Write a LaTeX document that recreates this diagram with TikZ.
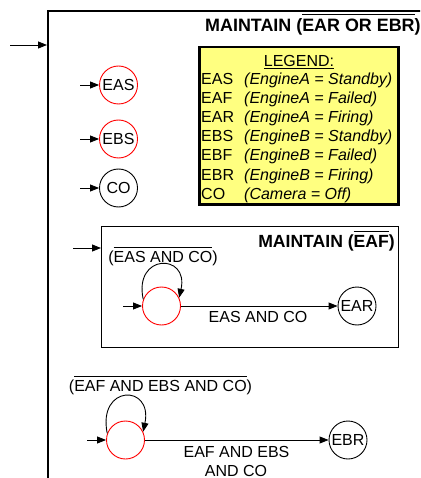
\documentclass[tikz,border=0pt]{standalone}
\usepackage{fontspec}
\setmainfont{Liberation Sans}
\usetikzlibrary{arrows.meta}
\definecolor{legendyellow}{RGB}{255,255,128}
\newsavebox\ovbox
\newcommand\ovl[1]{\sbox\ovbox{#1}\rlap{\raisebox{\dimexpr\ht\ovbox+4pt\relax}{\rule{\wd\ovbox}{0.8pt}}}\usebox\ovbox}
\begin{document}
\begin{tikzpicture}[x=1pt,y=-1pt,
  txt/.style={font=\fontsize{16}{19}\selectfont, inner sep=0pt},
  itxt/.style={font=\fontsize{16}{19}\selectfont\itshape, inner sep=0pt},
  ttl/.style={font=\fontsize{17.6}{21}\selectfont\bfseries, inner sep=0pt},
  state/.style={circle, draw, line width=0.9pt, minimum size=38pt, inner sep=0pt, font=\fontsize{16}{19}\selectfont},
  redstate/.style={state, draw=red},
  arr/.style={-{Triangle[length=9pt,width=7pt]}, line width=0.9pt},
  box/.style={draw, anchor=north west, inner sep=0pt},
]
\useasboundingbox (0,0) rectangle (420,478);
\clip (0,0) rectangle (420,478);

% outer box
\node[box, line width=2pt, minimum width=420pt, minimum height=500pt] (outer) at (47,10) {};
\node[ttl, font=\fontsize{17.9}{21}\selectfont\bfseries, anchor=base west] (t1) at (205,31.7) {MAINTAIN (\ovl{EAR OR EBR})};
\coordinate (oin) at (10,45);
\draw[arr] (oin) -- (oin -| outer.west);

% legend
\fill[black!45] (200.5,48.5) rectangle (400,206);
\node[box, line width=2.5pt, fill=legendyellow, minimum width=199pt, minimum height=157pt] (legend) at (198,46) {};
\node[txt, anchor=base] (lg) at (299,66.7) {\underline{LEGEND:}};
\node[txt, anchor=base west] (l1a) at (201,84.5) {EAS};
\node[itxt, anchor=base west] (l1b) at (244,84.5) {(EngineA = Standby)};
\node[txt, anchor=base west] (l2a) at (201,103.6) {EAF};
\node[itxt, anchor=base west] (l2b) at (244,103.6) {(EngineA = Failed)};
\node[txt, anchor=base west] (l3a) at (201,122.7) {EAR};
\node[itxt, anchor=base west] (l3b) at (244,122.7) {(EngineA = Firing)};
\node[txt, anchor=base west] (l4a) at (201,141.8) {EBS};
\node[itxt, anchor=base west] (l4b) at (244,141.8) {(EngineB = Standby)};
\node[txt, anchor=base west] (l5a) at (201,160.9) {EBF};
\node[itxt, anchor=base west] (l5b) at (244,160.9) {(EngineB = Failed)};
\node[txt, anchor=base west] (l6a) at (201,180) {EBR};
\node[itxt, anchor=base west] (l6b) at (244,180) {(EngineB = Firing)};
\node[txt, anchor=base west] (l7a) at (201,199.1) {CO};
\node[itxt, anchor=base west] (l7b) at (244,199.1) {(Camera = Off)};

% initial states
\node[redstate] (eas) at (118.5,85) {EAS};
\node[redstate] (ebs) at (118.5,139) {EBS};
\node[state] (co) at (118.5,188) {CO};
\coordinate (easin) at (80,85);
\coordinate (ebsin) at (80,139);
\coordinate (coin) at (80,188);
\draw[arr] (easin) -- (eas);
\draw[arr] (ebsin) -- (ebs);
\draw[arr] (coin) -- (co);

% inner box
\node[box, line width=1.3pt, minimum width=297pt, minimum height=121pt] (inner) at (101,226) {};
\node[ttl, anchor=base east] (t2) at (395,247.7) {MAINTAIN (\ovl{EAF})};
\coordinate (iin) at (73,248);
\draw[arr] (iin) -- (iin -| inner.west);

\node[redstate] (s1) at (161.5,306) {};
\node[state] (ear) at (357,306) {EAR};
\coordinate (s1in) at (123,306);
\draw[arr] (s1in) -- (s1);
\draw[arr] (s1.160) .. controls +(-10,-46) and +(10,-45) .. (s1.25);
\node[txt, anchor=base] (lab1) at (163,262.7) {(\ovl{EAS AND CO})};
\draw[arr] (s1) -- (ear);
\node[txt, anchor=base] (lab2) at (258,322.7) {EAS AND CO};

% bottom machine
\node[redstate] (s2) at (125.5,440) {};
\node[state] (ebr) at (348,440) {EBR};
\coordinate (s2in) at (87,440);
\draw[arr] (s2in) -- (s2);
\draw[arr] (s2.160) .. controls +(-10,-49) and +(10,-48) .. (s2.25);
\node[txt, anchor=base] (lab3) at (160.5,391.7) {(\ovl{EAF AND EBS AND CO})};
\draw[arr] (s2) -- (ebr);
\node[txt, anchor=base] (lab4) at (236.5,457.3) {EAF AND EBS};
\node[txt, anchor=base] (lab5) at (236,476) {AND CO};
\end{tikzpicture}
\end{document}
